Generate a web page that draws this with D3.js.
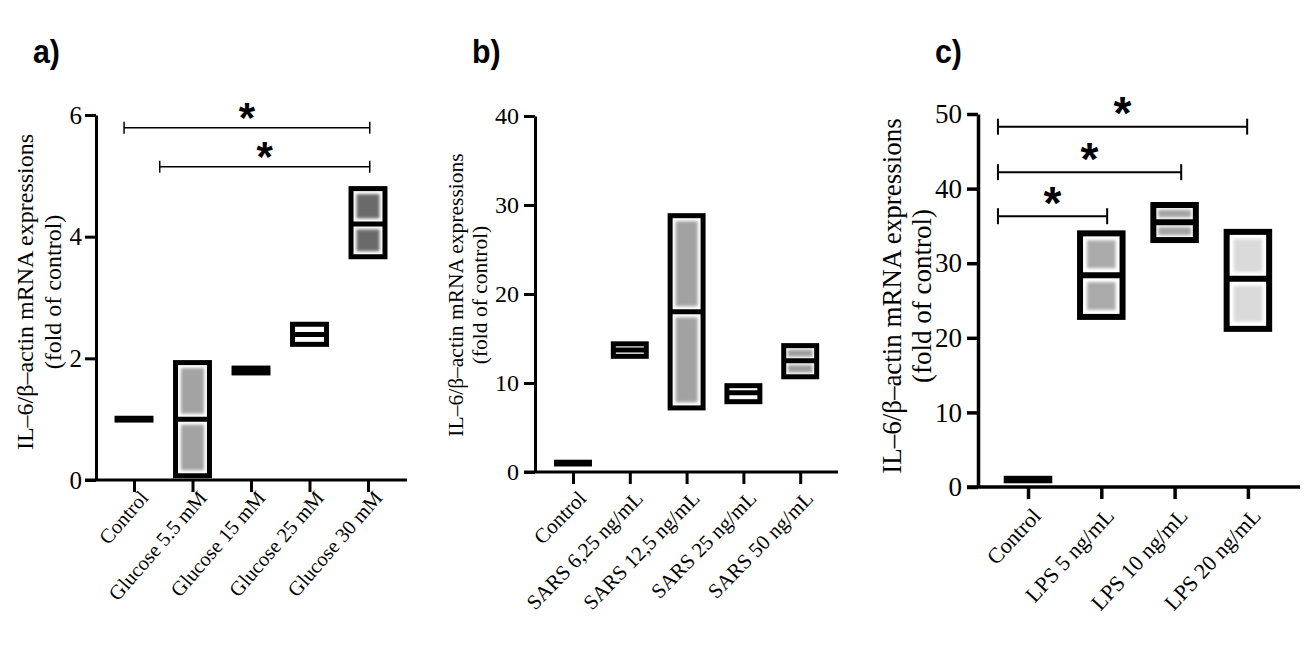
<!DOCTYPE html>
<html>
<head>
<meta charset="utf-8">
<script src="https://cdn.jsdelivr.net/npm/d3@7.9.0/dist/d3.min.js"></script>
<style>
  body { margin: 0; background: #fff; }
  svg { display: block; }
  text { font-family: "Liberation Serif", "Times New Roman", serif; fill: #000; }
</style>
</head>
<body>
<svg id="chart" width="1313" height="665"></svg>
<script>
// a) glucose
const catsA = ['Control', 'Glucose 5.5 mM', 'Glucose 15 mM', 'Glucose 25 mM', 'Glucose 30 mM'];
const lowA = [0.985, 0.07, 1.76, 2.23, 3.67];
const highA = [1.015, 1.93, 1.84, 2.56, 4.79];
const meanA = [1.0, 1.0, 1.8, 2.39, 4.21];
const ticksA = [0, 2, 4, 6];
// significance brackets: [from category index, to category index, y value]
const sigA = [[-0.17, 4.03, 5.79], [0.44, 4.03, 5.15]];

// b) SARS
const catsB = ['Control', 'SARS 6,25 ng/mL', 'SARS 12,5 ng/mL', 'SARS 25 ng/mL', 'SARS 50 ng/mL'];
const lowB = [0.9, 13.0, 7.2, 7.9, 10.7];
const highB = [1.1, 14.4, 28.8, 9.7, 14.2];
const meanB = [1.0, 13.7, 18.0, 8.9, 12.5];
const ticksB = [0, 10, 20, 30, 40];
const sigB = [];

// c) LPS
const catsC = ['Control', 'LPS 5 ng/mL', 'LPS 10 ng/mL', 'LPS 20 ng/mL'];
const lowC = [0.9, 22.8, 33.1, 21.2];
const highC = [1.1, 34.0, 37.8, 34.2];
const meanC = [1.0, 28.4, 35.5, 27.9];
const ticksC = [0, 10, 20, 30, 40, 50];
const sigC = [[-0.41, 1.08, 36.3], [-0.41, 2.09, 42.2], [-0.41, 2.99, 48.3]];

const yTitle = ['IL–6/β–actin mRNA expressions', '(fold of control)'];

// box fill shades (inner soft gray)
const fillsA = ['#fff', '#a3a3a3', '#000', '#fff', '#6a6a6a'];
const fillsB = ['#fff', '#fff', '#a2a2a2', '#fff', '#9c9c9c'];
const fillsC = ['#fff', '#aaaaaa', '#a4a4a4', '#dadada'];

const serif = '"Liberation Serif", "Times New Roman", serif';
const sans = '"Liberation Sans", Arial, sans-serif';

const svg = d3.select('#chart');
svg.append('defs').append('filter')
  .attr('id', 'soft')
  .attr('x', '-30%').attr('y', '-30%').attr('width', '160%').attr('height', '160%')
  .append('feGaussianBlur').attr('stdDeviation', 1.4);

function drawPanel(d, L) {
  const n = d.cats.length;
  const x = d3.scaleLinear().domain([0, n - 1]).range([L.c0, L.c0 + L.step * (n - 1)]);
  const y = d3.scaleLinear().domain([0, d.yMax]).range([L.yBot, L.yTop]);
  const g = svg.append('g');

  // panel letter
  g.append('text')
    .attr('x', L.letterX).attr('y', 63)
    .attr('transform', `translate(${L.letterX},0) scale(0.92,1) translate(${-L.letterX},0)`)
    .style('font-family', sans)
    .style('font-weight', 'bold').style('font-size', '33px')
    .text(d.letter);

  // y axis
  const yAxis = g.append('g')
    .attr('transform', `translate(${L.axisX},0)`)
    .call(d3.axisLeft(y).tickValues(d.ticks).tickFormat(d3.format('d'))
      .tickSize(11).tickSizeOuter(0).tickPadding(L.yPad));
  yAxis.attr('font-family', null);
  yAxis.selectAll('path,line').attr('stroke', '#000').attr('stroke-width', L.axW);
  yAxis.selectAll('text')
    .style('font-family', serif)
    .style('font-size', L.yFont + 'px');

  // x axis
  const xAxis = g.append('g')
    .attr('transform', `translate(0,${L.yBot})`)
    .call(d3.axisBottom(x).tickValues(d3.range(n)).tickFormat(i => d.cats[i]).tickSize(12).tickSizeOuter(0));
  xAxis.attr('font-family', null);
  xAxis.select('.domain').attr('d', `M${L.axisX - 11},0H${L.xEnd}`);
  xAxis.selectAll('path,line').attr('stroke', '#000').attr('stroke-width', L.axW);
  xAxis.selectAll('text')
    .attr('y', null).attr('dy', null)
    .attr('text-anchor', 'end')
    .attr('dominant-baseline', 'hanging')
    .attr('transform', `translate(${L.labDx},${L.labDy}) rotate(${-L.angle})`)
    .style('font-family', serif)
    .style('font-size', L.xFont + 'px');

  // y title
  const t = g.append('text')
    .attr('transform', `translate(${L.titleX},${L.titleY}) rotate(-90)`)
    .attr('text-anchor', 'middle')
    .style('font-family', serif)
    .style('font-size', L.titleFont + 'px');
  yTitle.forEach((s, k) => {
    t.append('tspan').attr('x', 0).attr('y', (k - 0.5) * L.titleGap)
      .attr('dominant-baseline', 'middle').text(s);
  });

  // boxes
  const half = 0.29, sw = L.boxW;
  d.cats.forEach((c, i) => {
    const x0 = x(i - half), x1 = x(i + half);
    const yt = y(d.high[i]), yb = y(d.low[i]), ym = y(d.mean[i]);
    g.append('rect').attr('x', x0).attr('y', yt).attr('width', x1 - x0).attr('height', yb - yt)
      .attr('fill', '#fff');
    [[yt + sw / 2, ym - sw / 2], [ym + sw / 2, yb - sw / 2]].forEach(([a, b]) => {
      const inset = Math.min(L.inset, (b - a) * 0.16);
      const h = b - a - 2 * inset, w = x1 - x0 - sw - 2 * inset;
      if (h > 1 && w > 1) {
        g.append('rect')
          .attr('x', x0 + sw / 2 + inset).attr('y', a + inset)
          .attr('width', w).attr('height', h)
          .attr('fill', d.fills[i]).attr('filter', 'url(#soft)');
      }
    });
    g.append('rect').attr('x', x0).attr('y', yt).attr('width', x1 - x0).attr('height', yb - yt)
      .attr('fill', 'none').attr('stroke', '#000').attr('stroke-width', sw);
    g.append('line').attr('x1', x0).attr('x2', x1).attr('y1', ym).attr('y2', ym)
      .attr('stroke', '#000').attr('stroke-width', sw);
  });

  // significance brackets
  d.sig.forEach(([f, to, v]) => {
    const yy = y(v), xa = x(f), xb = x(to);
    g.append('line').attr('x1', xa).attr('x2', xb).attr('y1', yy).attr('y2', yy)
      .attr('stroke', '#000').attr('stroke-width', L.brW);
    [xa, xb].forEach(xx => g.append('line')
      .attr('x1', xx).attr('x2', xx).attr('y1', yy - L.cap / 2).attr('y2', yy + L.cap / 2)
      .attr('stroke', '#000').attr('stroke-width', L.brW));
    g.append('text')
      .attr('x', (xa + xb) / 2).attr('y', yy - L.starGap + 0.58 * L.starFont)
      .attr('text-anchor', 'middle')
      .style('font-family', sans)
      .style('font-weight', 'bold').style('font-size', L.starFont + 'px')
      .text('*');
  });
}

drawPanel(
  { letter: 'a)', cats: catsA, low: lowA, high: highA, mean: meanA, ticks: ticksA, yMax: 6, sig: sigA, fills: fillsA },
  { letterX: 33, axisX: 96, xEnd: 407, c0: 134, step: 58.5, yBot: 480, yTop: 115, axW: 3, yPad: 3, yFont: 25,
    xFont: 20.5, angle: 49, labDx: 4, labDy: 9, titleX: 41, titleY: 292, titleGap: 28, titleFont: 24,
    boxW: 5, inset: 3, brW: 1.5, cap: 12, starGap: 20, starFont: 42 }
);
drawPanel(
  { letter: 'b)', cats: catsB, low: lowB, high: highB, mean: meanB, ticks: ticksB, yMax: 40, sig: sigB, fills: fillsB },
  { letterX: 472, axisX: 535, xEnd: 838, c0: 573, step: 56.8, yBot: 472, yTop: 116, axW: 3, yPad: 5, yFont: 24,
    xFont: 21, angle: 45.6, labDx: 3, labDy: 17, titleX: 470, titleY: 295, titleGap: 24, titleFont: 21.5,
    boxW: 5, inset: 3, brW: 1.5, cap: 12, starGap: 20, starFont: 42 }
);
drawPanel(
  { letter: 'c)', cats: catsC, low: lowC, high: highC, mean: meanC, ticks: ticksC, yMax: 50, sig: sigC, fills: fillsC },
  { letterX: 935, axisX: 978, xEnd: 1300, c0: 1028, step: 73.3, yBot: 487, yTop: 114, axW: 3.5, yPad: 5, yFont: 27,
    xFont: 22, angle: 47, labDx: 2, labDy: 19, titleX: 910, titleY: 296, titleGap: 30, titleFont: 27,
    boxW: 6, inset: 4, brW: 2, cap: 16, starGap: 24, starFont: 46 }
);
</script>
</body>
</html>
